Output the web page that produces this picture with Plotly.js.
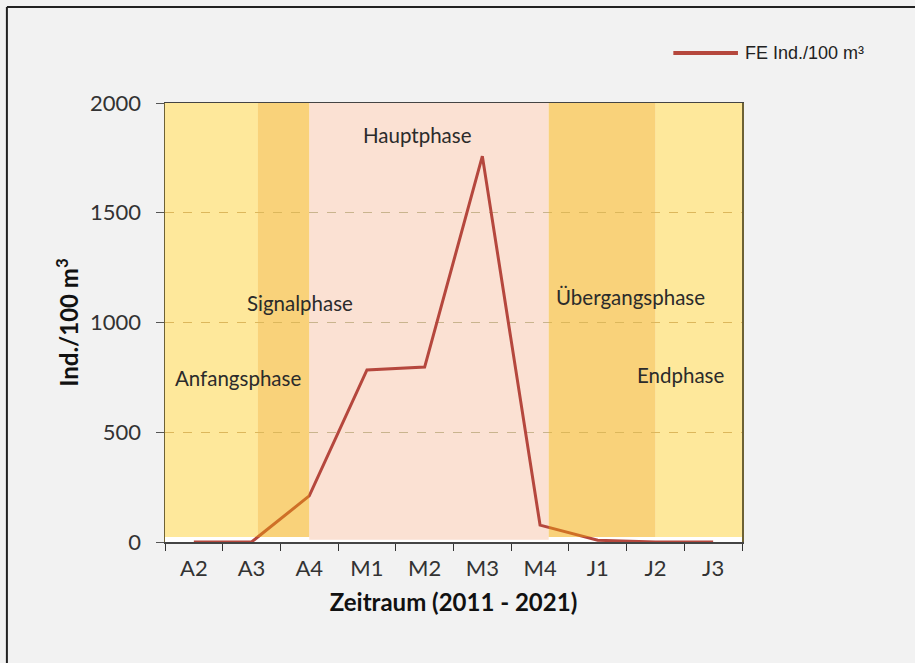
<!DOCTYPE html>
<html>
<head>
<meta charset="utf-8">
<script src="https://cdn.plot.ly/plotly-3.0.1.min.js"></script>
<style>
html,body{margin:0;padding:0;background:#f2f2f2;}
#chart{width:915px;height:663px;}
</style>
</head>
<body>
<div id="chart"></div>
<script>
// Data
const categories = ["A2","A3","A4","M1","M2","M3","M4","J1","J2","J3"];
const feValues = [0, 0, 210, 784, 797, 1758, 77, 8, 0, 0];
const seriesName = "FE Ind./100 m\u00b3";
const phaseNames = ["Anfangsphase","Signalphase","Hauptphase","\u00dcbergangsphase","Endphase"];
const yTicks = [0, 500, 1000, 1500, 2000];

const lineColor = "#b5473d";
const pink = "#fbe1d3";
// base colours under a translucent orange tint (so the line looks orange in the yellow zones)
const tint = "rgb(255,190,0)", tintOp = 0.35;
const lightBase = "rgb(254,255,238)", darkBase = "rgb(246,221,188)";

function band(x0, x1, fill, layer, opacity, y0) {
  return {type:"rect", xref:"x", yref:"y", x0:x0, x1:x1, y0:(y0===undefined?23:y0), y1:2000,
          fillcolor:fill, line:{width:0}, layer:layer, opacity:opacity};
}
const shapes = [
  band(-0.5, 1.11, lightBase, "below", 1),
  band(1.11, 2.0, darkBase, "below", 1),
  band(2.0, 6.15, pink, "below", 1, 10),
  band(6.15, 8.0, darkBase, "below", 1),
  band(8.0, 9.5, lightBase, "below", 1),
  band(-0.5, 1.11, tint, "above", tintOp),
  band(1.11, 2.0, tint, "above", tintOp),
  band(6.15, 8.0, tint, "above", tintOp),
  band(8.0, 9.5, tint, "above", tintOp),
  // outer frame (top & left)
  {type:"line", xref:"paper", yref:"paper", x0:-0.274, x1:1.3, y0:1.2187, y1:1.2187, line:{color:"#222", width:2}},
  {type:"line", xref:"paper", yref:"paper", x0:-0.274, x1:-0.274, y0:1.2187, y1:-0.28, line:{color:"#222", width:2}},
  // legend sample line
  {type:"line", xref:"paper", yref:"paper", x0:0.881, x1:0.993, y0:1.1139, y1:1.1139, line:{color:lineColor, width:4}}
];

const annFont = {family:"Lato, 'Open Sans', sans-serif", size:20.5, color:"#2b2b2b"};
const annPos = [[0.765,747],[1.84,1089],[3.87,1854],[7.56,1116],[8.43,761]];
const annotations = phaseNames.map((t,i)=>({
  text:t, x:annPos[i][0], y:annPos[i][1], xref:"x", yref:"y", showarrow:false,
  xanchor:"center", yanchor:"middle", font:annFont
}));
// legend text
annotations.push({text:seriesName, xref:"paper", yref:"paper", x:1.0017, y:1.1139,
  xanchor:"left", yanchor:"middle", showarrow:false,
  font:{family:"'Liberation Sans', Arial, sans-serif", size:18, color:"#222"}});

const trace = {
  type:"scatter", mode:"lines", x:categories, y:feValues, name:seriesName,
  line:{color:lineColor, width:3}, showlegend:false
};

const layout = {
  width:915, height:663,
  paper_bgcolor:"#f2f2f2", plot_bgcolor:"#ffffff",
  margin:{l:165, r:173, t:103, b:121},
  showlegend:false,
  xaxis:{
    type:"category", range:[-0.5, 9.5], tickson:"boundaries", ticks:"outside", ticklen:7,
    tickcolor:"#333", showline:true, linecolor:"#444", linewidth:1.5, mirror:true,
    showgrid:false, zeroline:false, ticklabelstandoff:6,
    tickfont:{family:"Lato, 'Open Sans', sans-serif", size:22, color:"#333"},
    title:{text:"Zeitraum (2011 - 2021)", standoff:14,
           font:{family:"Lato, 'Open Sans', sans-serif", size:24, color:"#111", weight:"bold"}}
  },
  yaxis:{
    range:[0, 2000], tickvals:yTicks, ticks:"outside", ticklen:8, tickcolor:"#555",
    showline:true, linecolor:"#6e6235", linewidth:1.5, mirror:true, ticklabelstandoff:10,
    showgrid:true, gridcolor:"#c9b48e", griddash:"dash", gridwidth:1, zeroline:false,
    tickfont:{family:"Lato, 'Open Sans', sans-serif", size:22, color:"#333"},
    title:{text:"Ind./100 m<sup>3</sup>", standoff:4,
           font:{family:"Lato, 'Open Sans', sans-serif", size:24, color:"#111", weight:"bold"}}
  },
  shapes:shapes,
  annotations:annotations
};

Plotly.newPlot("chart", [trace], layout, {displayModeBar:false, staticPlot:true});
</script>
</body>
</html>
